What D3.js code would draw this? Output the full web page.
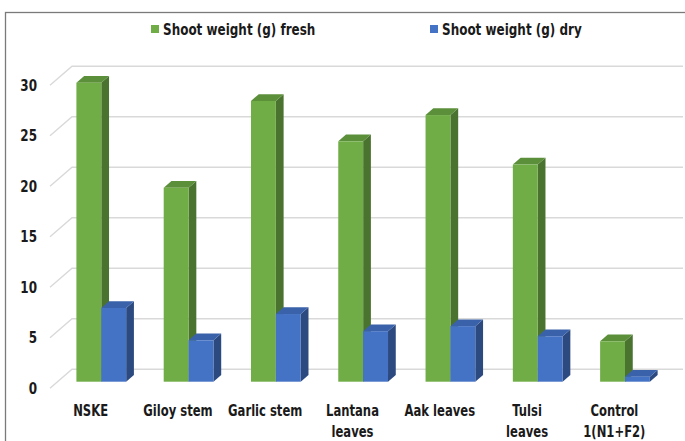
<!DOCTYPE html>
<html>
<head>
<meta charset="utf-8">
<script src="https://cdn.jsdelivr.net/npm/d3@7"></script>
<style>
  html, body { margin: 0; padding: 0; background: #ffffff; }
  svg { display: block; }
  text { font-family: "Liberation Sans Narrow", "DejaVu Sans Condensed", "Arial Narrow", sans-serif; font-weight: bold; fill: #1a1a1a; }
</style>
</head>
<body>
<svg id="chart" width="685" height="441"></svg>
<script>
// Shoot weight (g) per treatment, fresh and dry
const categories = ["NSKE", "Giloy stem", "Garlic stem", "Lantana leaves", "Aak leaves", "Tulsi leaves", "Control 1(N1+F2)"];
const categoryLines = [["NSKE"], ["Giloy stem"], ["Garlic stem"], ["Lantana", "leaves"], ["Aak leaves"], ["Tulsi", "leaves"], ["Control", "1(N1+F2)"]];
const freshWeight = [29.6, 19.2, 27.8, 23.8, 26.4, 21.5, 4.0];
const dryWeight = [7.3, 4.1, 6.7, 5.0, 5.5, 4.5, 0.5];
const yTicks = [0, 5, 10, 15, 20, 25, 30];
const seriesNames = ["Shoot weight (g) fresh", "Shoot weight (g) dry"];

const svg = d3.select("#chart");

// oblique projection: depth z measured from the back wall toward the viewer
const kx = 22 / 19;
const floorDepth = 19;
const barFrontZ = 12.4;
const barDepth = 6.7;
const proj = (x, y, z) => [x - z * kx, y + z];
const narrow = 0.86; // horizontal squeeze for a compact label face

// scales laid out on the back wall
const y = d3.scaleLinear().domain([0, 30]).range([369.3, 66.3]);
const x = d3.scaleBand().domain(categories).range([72, 683]).paddingInner(0.43).paddingOuter(0.215);
const xs = d3.scaleBand().domain(["fresh", "dry"]).range([0, x.bandwidth()]);

const palette = {
  fresh: { front: "#70ad47", top: "#5b8f3a", side: "#4a7330" },
  dry:   { front: "#4472c4", top: "#3a62aa", side: "#2c4a80" }
};

// chart frame
svg.append("rect")
  .attr("x", 5.5).attr("y", 12.5).attr("width", 700).attr("height", 440)
  .attr("fill", "none").attr("stroke", "#7a7a7a").attr("stroke-width", 1.3);

// gridlines: back wall plus side-wall stubs
const grid = svg.append("g").attr("stroke", "#d9d9d9").attr("stroke-width", 1.4).attr("fill", "none");
yTicks.forEach(t => {
  const yb = y(t);
  const f = proj(72, yb, floorDepth);
  grid.append("path").attr("d", `M${f[0]},${f[1]}L72,${yb}L683,${yb}`);
});

// y axis labels at the front edge
svg.append("g").selectAll("text").data(yTicks).join("text")
  .attr("transform", d => `translate(37,${proj(72, y(d), floorDepth)[1]}) scale(${narrow},1)`)
  .attr("dy", "0.36em")
  .attr("text-anchor", "end")
  .attr("font-size", 15.5)
  .text(d => d);

// 3D bars
const bars = svg.append("g");
function drawBar(cx, width, value, col) {
  const z0 = barFrontZ;
  const [x0, yt] = proj(cx, y(value), z0);
  const [, yb] = proj(cx, y(0), z0);
  const x1 = x0 + width;
  const dx = barDepth * kx, dy = barDepth;
  const g = bars.append("g");
  g.append("path").attr("fill", col.side)
    .attr("d", `M${x1},${yt}L${x1 + dx},${yt - dy}L${x1 + dx},${yb - dy}L${x1},${yb}Z`);
  g.append("path").attr("fill", col.top)
    .attr("d", `M${x0},${yt}L${x1},${yt}L${x1 + dx},${yt - dy}L${x0 + dx},${yt - dy}Z`);
  g.append("rect").attr("fill", col.front)
    .attr("x", x0).attr("y", yt).attr("width", width).attr("height", yb - yt);
}
categories.forEach((c, i) => {
  drawBar(x(c) + xs("fresh"), xs.bandwidth(), freshWeight[i], palette.fresh);
  drawBar(x(c) + xs("dry"), xs.bandwidth(), dryWeight[i], palette.dry);
});

// category labels on the front floor edge
const labels = svg.append("g").selectAll("text").data(categories).join("text")
  .attr("text-anchor", "middle")
  .attr("font-size", 15)
  .attr("transform", (c) => {
    const p = proj(x(c) + x.bandwidth() / 2, y(0), floorDepth);
    return `translate(${p[0] - 3},416) scale(${narrow},1)`;
  });
labels.each(function(c, i) {
  d3.select(this).selectAll("tspan").data(categoryLines[i]).join("tspan")
    .attr("x", 0).attr("dy", (d, j) => j === 0 ? 0 : 21.5).text(d => d);
});

// legend
const legendX = [151, 430];
const legend = svg.append("g");
seriesNames.forEach((s, i) => {
  legend.append("rect").attr("x", legendX[i]).attr("y", 25).attr("width", 8).attr("height", 8)
    .attr("fill", i === 0 ? palette.fresh.front : palette.dry.front);
  legend.append("text")
    .attr("transform", `translate(${legendX[i] + 12},29) scale(${narrow},1)`)
    .attr("dy", "0.36em")
    .attr("font-size", 15.5).text(s);
});
</script>
</body>
</html>
